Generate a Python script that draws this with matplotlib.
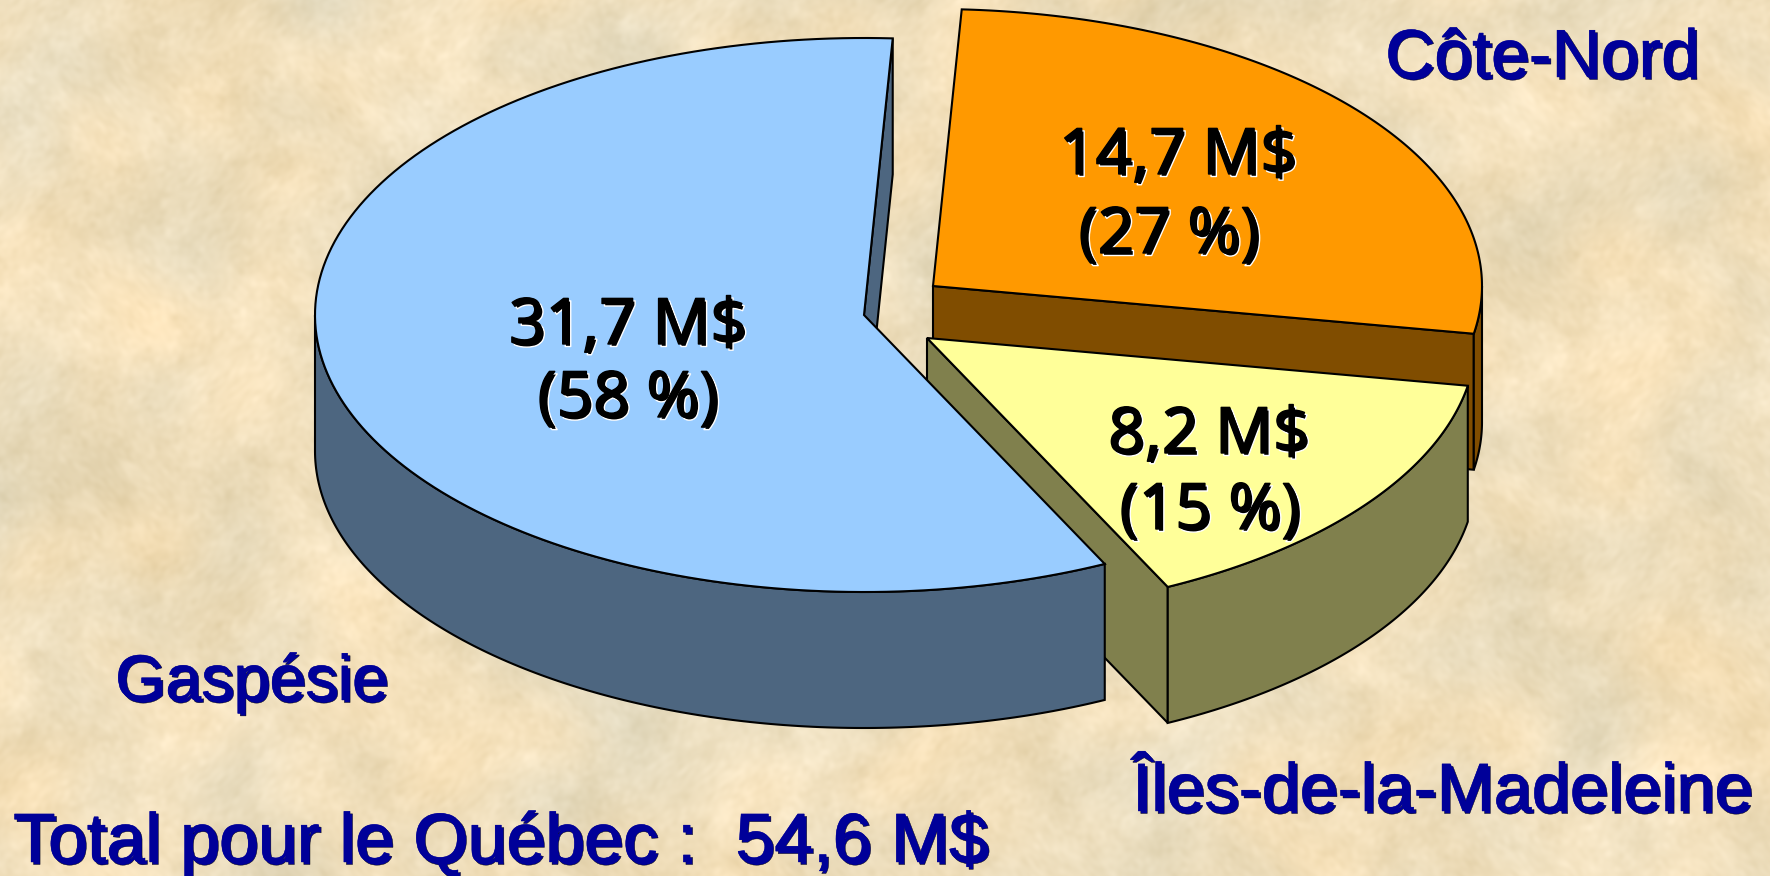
from matplotlib import pyplot as plt
from matplotlib.patches import Polygon
import matplotlib.patheffects as pe
import numpy as np

regions = ['Côte-Nord', 'Îles-de-la-Madeleine', 'Gaspésie']
values = [14.7, 8.2, 31.7]
amount_labels = ['14,7 M$', '8,2 M$', '31,7 M$']
share_labels = ['(27 %)', '(15 %)', '(58 %)']
total_label = 'Total pour le Québec :  54,6 M$'

top_colors = ['#FF9900', '#FFFF99', '#99CCFF']
side_colors = ['#804D00', '#80804D', '#4D6680']

# picture pixels, y going down
tips = [(933, 286), (927, 338), (864, 315)]
rx = 549
ry = 277
depth = 136
start_angle = 87

amount_pos = [(1178, 157), (1209, 436), (628, 327)]
share_pos = [(1169, 236), (1210, 512), (628, 400)]
region_pos = [(1385, 77), (1132, 811), (115, 700)]
region_sizes = [49, 49.3, 46.5]
total_pos = (13, 862)

W, H = 1770, 876
fig = plt.figure(figsize=(W / 100, H / 100), dpi=100)
ax = fig.add_axes([0, 0, 1, 1])
ax.set_xlim(0, W)
ax.set_ylim(H, 0)
ax.axis('off')


# mottled paper background: lots of sines at spread out angles and frequencies
def paper():
    yy, xx = np.mgrid[0:H, 0:W]
    u = xx + 10 * np.sin(yy / 31.0)
    v = yy + 10 * np.sin(xx / 37.0)
    t = np.zeros((H, W))
    warm = np.zeros((H, W))
    for k in range(1, 171):
        f = 0.012 * 1.025 ** k
        th = k * 2.39996
        wave = np.sin(f * (np.cos(th) * u + np.sin(th) * v) + k * 1.7)
        t += wave / f ** 0.25
        if k % 3 == 0 and k < 70:
            warm += wave / f ** 0.25
    t = t / t.std()
    warm = warm / warm.std()
    base = np.array([240, 223, 188]) / 255
    img = base + t[..., None] * np.array([0.016, 0.018, 0.024])
    img = img + warm[..., None] * np.array([0.008, -0.002, -0.014])
    return np.clip(img, 0, 1)


ax.imshow(paper(), extent=(0, W, H, 0), aspect='auto', zorder=0, interpolation='bilinear')


def arc(tip, a0, a1, dy=0):
    t = np.radians(np.linspace(a0, a1, 160))
    return np.column_stack([tip[0] + rx * np.cos(t), tip[1] - ry * np.sin(t) + dy])


def add_poly(pts, color, z):
    ax.add_patch(Polygon(pts, closed=True, facecolor=color, edgecolor='black',
                         linewidth=1.5, joinstyle='miter', zorder=z))


# angles come from the values, clockwise from the start
total = sum(values)
a0 = start_angle
z = 1
for i in range(len(values)):
    a1 = a0 - values[i] / total * 360
    tip = tips[i]
    top = np.vstack([[tip], arc(tip, a0, a1)])
    # radial wall
    end = arc(tip, a1, a1)[0]
    add_poly([tip, end, (end[0], end[1] + depth), (tip[0], tip[1] + depth)], side_colors[i], z)
    # outer rim, only the part below the widest line shows
    if i == 0:
        rim = np.vstack([arc(tip, a1, 0), arc(tip, 0, a1, depth)])
    elif i == 1:
        rim = np.vstack([arc(tip, a0, a1), arc(tip, a1, a0, depth)])
    else:
        rim = np.vstack([arc(tip, -180, a0), arc(tip, a0, -180, depth)])
    add_poly(rim, side_colors[i], z)
    add_poly(top, top_colors[i], z + 1)
    z += 2
    a0 = a1

black_fx = [pe.Stroke(linewidth=1.0, foreground='white', offset=(1.8, -1.8)),
            pe.Stroke(linewidth=1.0, foreground='black'), pe.Normal()]
blue_fx = [pe.Stroke(linewidth=0.3, foreground='black', offset=(1.8, -1.8)),
           pe.Stroke(linewidth=0.3, foreground='#000099'), pe.Normal()]

for i in range(len(values)):
    ax.text(amount_pos[i][0], amount_pos[i][1], amount_labels[i], family='Noto Sans', fontsize=46,
            color='black', ha='center', va='center', zorder=20, path_effects=black_fx)
    ax.text(share_pos[i][0], share_pos[i][1], share_labels[i], family='Noto Sans', fontsize=46,
            color='black', ha='center', va='center', zorder=20, path_effects=black_fx)
    ax.text(region_pos[i][0], region_pos[i][1], regions[i], family='Liberation Sans', fontsize=region_sizes[i],
            color='#000099', ha='left', va='baseline', zorder=20, path_effects=blue_fx)

ax.text(total_pos[0], total_pos[1], total_label, family='Liberation Sans', fontsize=50.3,
        color='#000099', ha='left', va='baseline', zorder=20, path_effects=blue_fx)

plt.savefig('out.png', dpi=100)
